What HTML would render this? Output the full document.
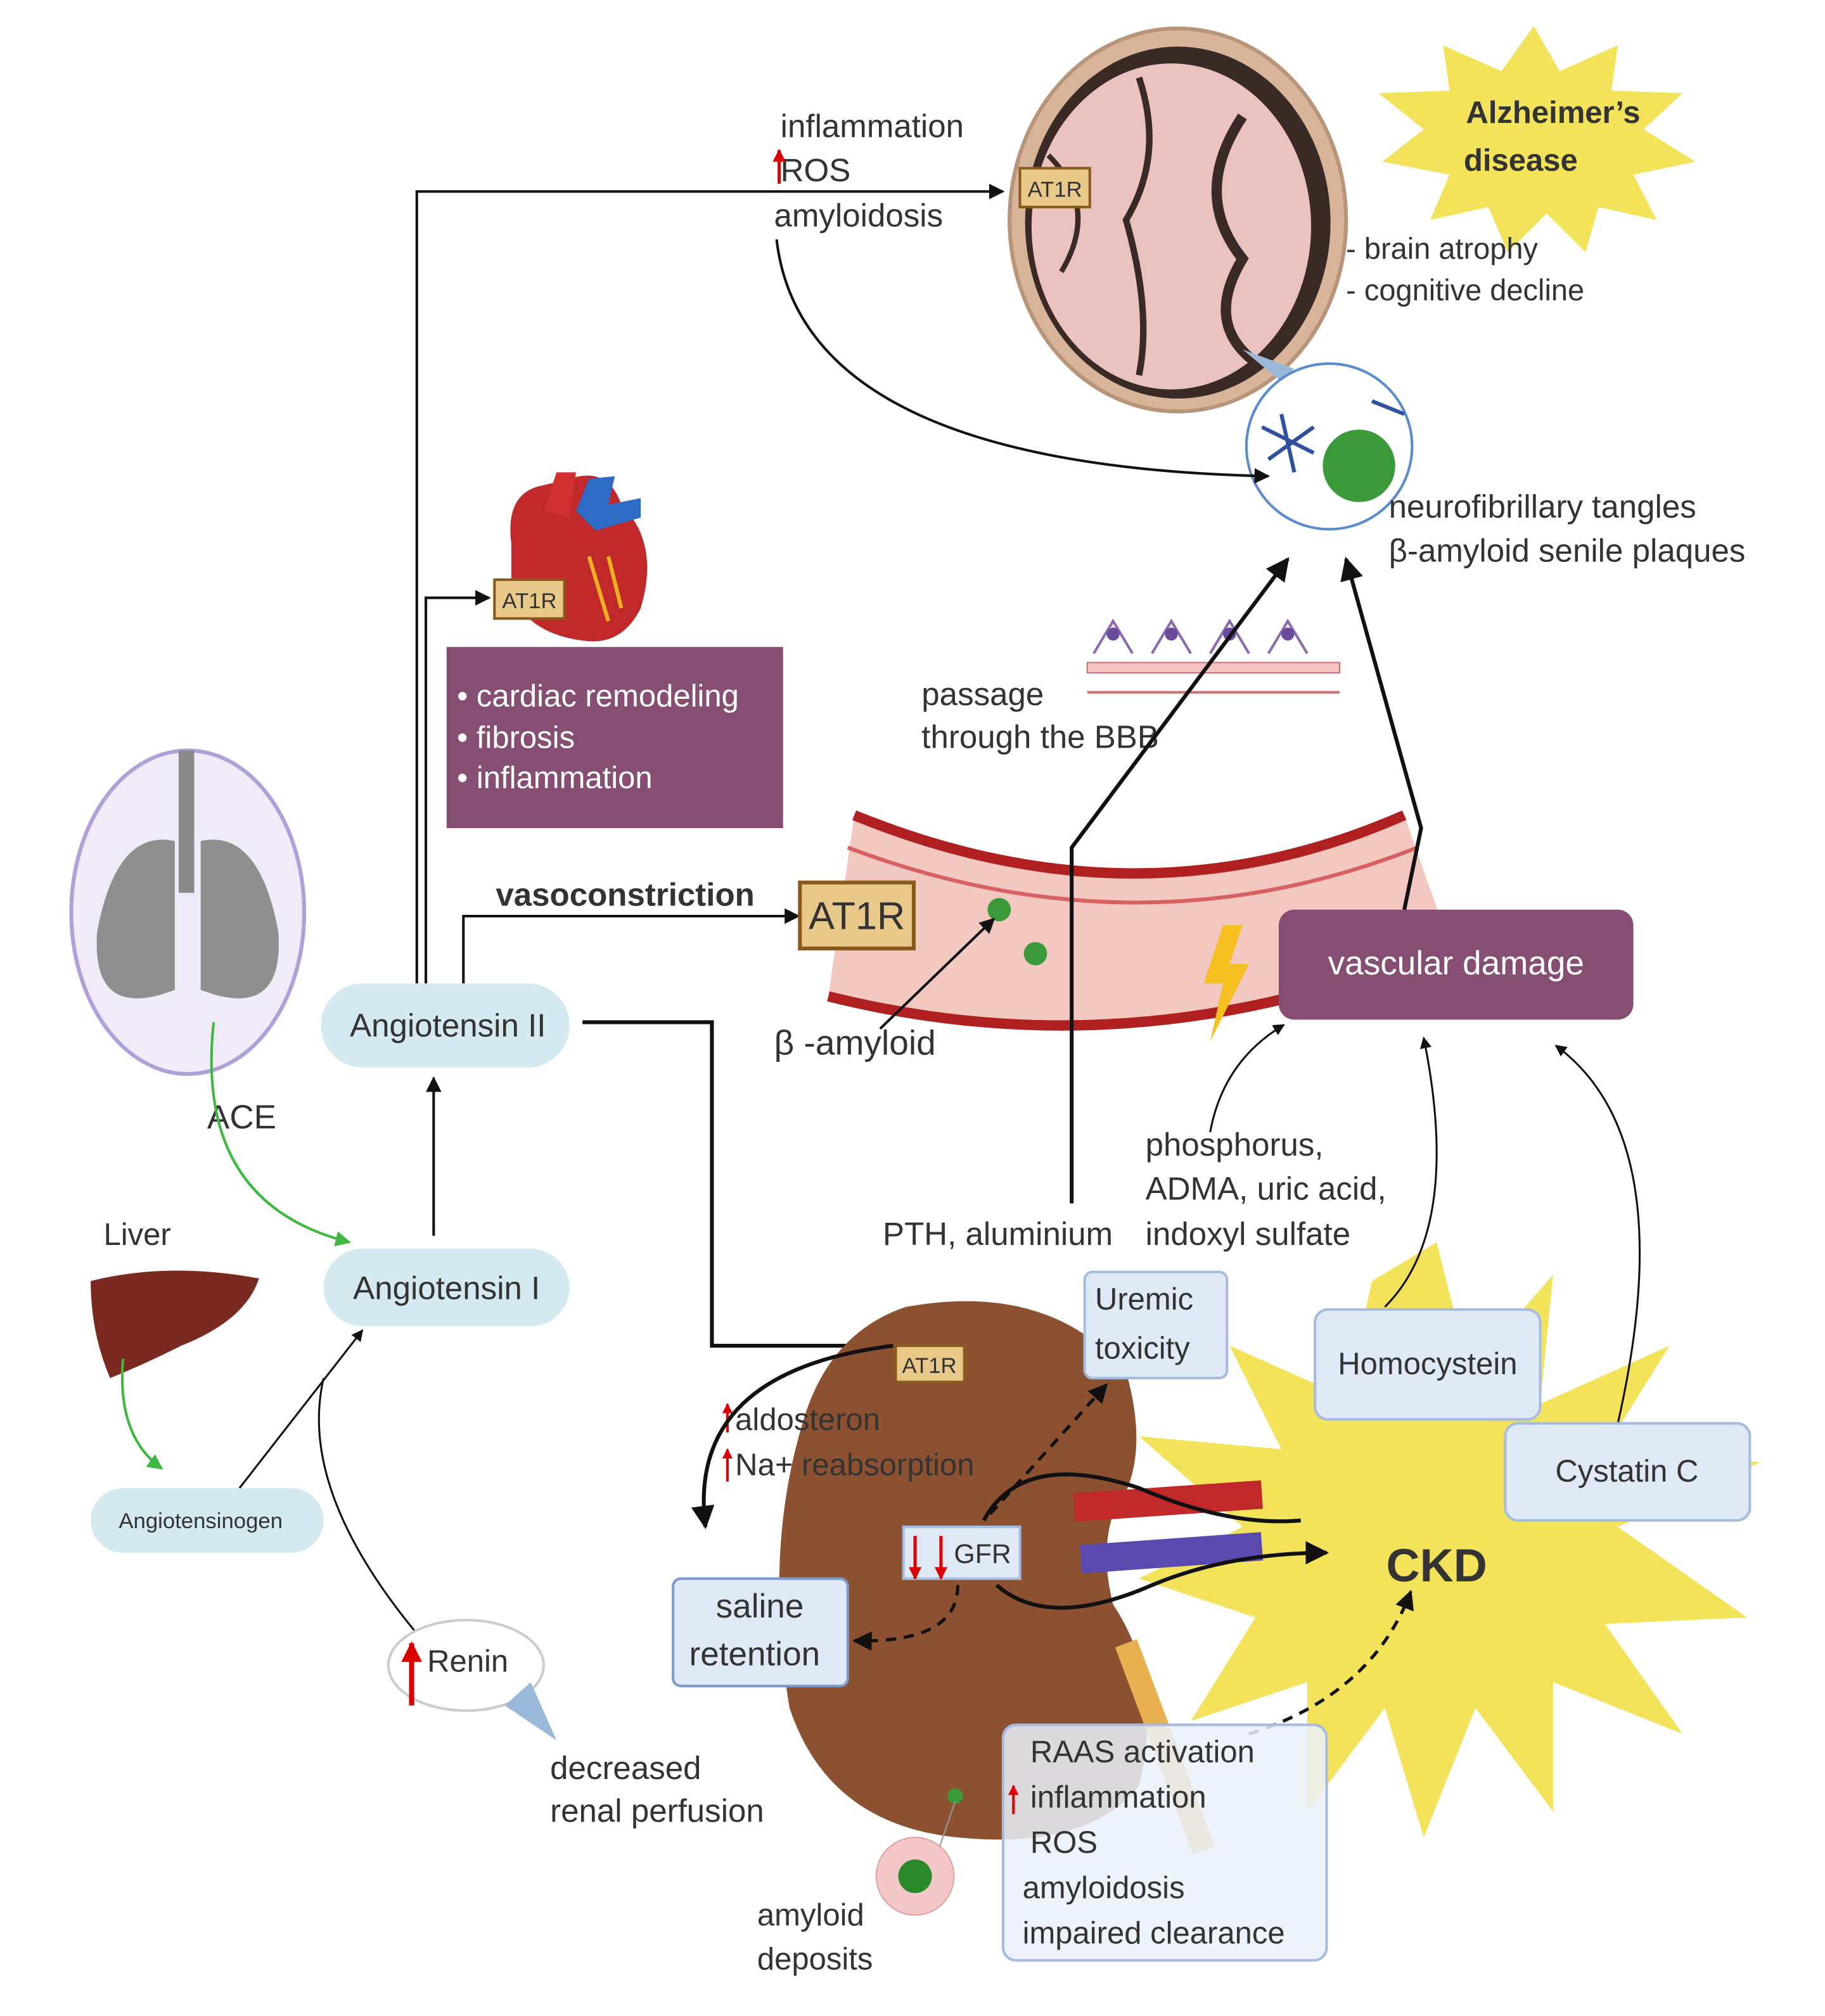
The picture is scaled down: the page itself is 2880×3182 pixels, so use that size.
<!DOCTYPE html>
<html><head><meta charset="utf-8"><style>
html,body{margin:0;padding:0;background:#fff}
svg{display:block}
text{font-family:"Liberation Sans",sans-serif;fill:#333}
</style></head><body>
<svg width="2880" height="3182" viewBox="0 0 1410 1558" xmlns="http://www.w3.org/2000/svg">
<defs>
<marker id="ah" viewBox="0 0 10 10" refX="9" refY="5" markerWidth="6" markerHeight="6" orient="auto"><path d="M0,0L10,5L0,10z" fill="#111"/></marker>
<marker id="ahg" viewBox="0 0 10 10" refX="9" refY="5" markerWidth="6" markerHeight="6" orient="auto"><path d="M0,0L10,5L0,10z" fill="#3fb83f"/></marker>
<marker id="ahr" viewBox="0 0 10 10" refX="9" refY="5" markerWidth="4" markerHeight="4" orient="auto"><path d="M0,0L10,5L0,10z" fill="#d00"/></marker>
</defs>
<rect width="1410" height="1558" fill="#fff"/>

<!-- CKD star -->
<polygon fill="#f3e35a" points="1110,960 1135,1060 1200,985 1190,1085 1290,1040 1240,1120 1360,1130 1250,1180 1350,1250 1240,1255 1300,1340 1200,1300 1200,1400 1140,1320 1100,1420 1070,1320 1010,1400 1010,1300 920,1330 970,1250 880,1220 960,1180 880,1110 990,1120 950,1040 1040,1080 1060,990"/>
<!-- Alzheimer star -->
<polygon fill="#f3e35a" points="1185,20 1205,55 1250,35 1245,70 1300,72 1270,100 1310,125 1262,135 1280,170 1235,160 1225,195 1195,165 1165,195 1150,160 1105,170 1120,135 1068,125 1100,100 1065,72 1120,70 1115,35 1160,55"/>
<text x="1200" y="95" font-size="24" font-weight="bold" text-anchor="middle" fill="#222">Alzheimer’s</text>
<text x="1175" y="132" font-size="24" font-weight="bold" text-anchor="middle" fill="#222">disease</text>

<!-- Brain -->
<ellipse cx="910" cy="170" rx="130" ry="148" fill="#d8b59a" stroke="#b89478" stroke-width="3"/>
<ellipse cx="910" cy="172" rx="118" ry="136" fill="#3a2a25"/>
<ellipse cx="905" cy="175" rx="108" ry="126" fill="#eac2c0"/>
<path d="M880,60 Q900,120 870,170 Q890,240 880,290" stroke="#3a2a25" stroke-width="5" fill="none"/>
<path d="M960,90 Q920,150 960,200 Q930,250 970,280" stroke="#3a2a25" stroke-width="8" fill="none"/>
<path d="M810,120 Q850,160 820,210" stroke="#3a2a25" stroke-width="4" fill="none"/>
<rect x="788" y="130" width="54" height="30" fill="#e8c98a" stroke="#8a5a1a" stroke-width="2"/>
<text x="815" y="152" font-size="17" text-anchor="middle">AT1R</text>
<text x="1040" y="200" font-size="23">- brain atrophy</text>
<text x="1040" y="232" font-size="23">- cognitive decline</text>
<polygon points="960,270 990,295 1000,285" fill="#9ab8d8"/>
<circle cx="1027" cy="345" r="64" fill="#fff" stroke="#5a8ad0" stroke-width="2"/>
<circle cx="1050" cy="360" r="28" fill="#3a9a3a"/>
<path d="M975,330 l40,20 M980,355 l35,-25 M990,320 l10,45 M1060,310 l25,10" stroke="#3050a0" stroke-width="3"/>
<text x="1073" y="400" font-size="25">neurofibrillary tangles</text>
<text x="1073" y="434" font-size="25">β-amyloid senile plaques</text>

<!-- inflammation text -->
<text x="603" y="106" font-size="25">inflammation</text>
<text x="603" y="140" font-size="25">ROS</text>
<text x="598" y="175" font-size="25">amyloidosis</text>
<line x1="602" y1="142" x2="602" y2="116" stroke="#d00" stroke-width="2.5" marker-end="url(#ahr)"/>
<path d="M600,185 Q620,360 980,368" stroke="#111" stroke-width="2" fill="none" marker-end="url(#ah)"/>

<!-- AngII vertical lines -->
<path d="M322,760 V148 H775" stroke="#111" stroke-width="2" fill="none" marker-end="url(#ah)"/>
<path d="M329,760 V462 H378" stroke="#111" stroke-width="2" fill="none" marker-end="url(#ah)"/>

<!-- Heart -->
<path d="M395,420 Q390,380 420,375 L440,370 Q470,360 480,390 Q510,420 495,470 Q480,500 450,495 Q410,490 395,460z" fill="#c0282a"/>
<path d="M420,395 L430,365 L445,365 L440,400z" fill="#d03030"/>
<path d="M445,395 L455,370 L475,368 L470,390 L495,385 L495,400 L460,410z" fill="#2d6bc4"/>
<path d="M455,430 L470,480 M470,430 L480,470" stroke="#f0b020" stroke-width="3"/>
<rect x="382" y="448" width="54" height="30" fill="#e8c98a" stroke="#8a5a1a" stroke-width="2"/>
<text x="409" y="470" font-size="17" text-anchor="middle">AT1R</text>
<rect x="345" y="500" width="260" height="140" fill="#864e73"/>
<text x="353" y="546" font-size="24" style="fill:#fff">• cardiac remodeling</text>
<text x="353" y="578" font-size="24" style="fill:#fff">• fibrosis</text>
<text x="353" y="609" font-size="24" style="fill:#fff">• inflammation</text>

<!-- BBB -->
<g stroke="#8a6ab0" stroke-width="2" fill="none">
<path d="M845,505 l15,-25 l15,25 M890,505 l15,-25 l15,25 M935,505 l15,-25 l15,25 M980,505 l15,-25 l15,25"/>
</g>
<g fill="#6a4a9a"><circle cx="860" cy="490" r="5"/><circle cx="905" cy="490" r="5"/><circle cx="950" cy="490" r="5"/><circle cx="995" cy="490" r="5"/></g>
<rect x="840" y="512" width="195" height="8" fill="#f4c4c4" stroke="#d07070"/>
<line x1="840" y1="535" x2="1035" y2="535" stroke="#d07070" stroke-width="2"/>
<text x="712" y="545" font-size="25">passage</text>
<text x="712" y="578" font-size="25">through the BBB</text>

<!-- Vessel -->
<path d="M660,630 Q880,720 1085,630 L1120,730 Q880,830 640,770z" fill="#f2c8c0"/>
<path d="M660,630 Q880,720 1085,630" stroke="#b02020" stroke-width="8" fill="none"/>
<path d="M640,770 Q880,830 1120,730" stroke="#b02020" stroke-width="8" fill="none"/>
<path d="M655,655 Q880,740 1095,655" stroke="#d86060" stroke-width="3" fill="none"/>
<circle cx="772" cy="703" r="9" fill="#3a9a3a"/><circle cx="800" cy="737" r="9" fill="#3a9a3a"/>
<path d="M945,715 L930,760 L945,760 L935,805 L965,745 L950,745 L960,715z" fill="#f5c020"/>
<rect x="988" y="703" width="274" height="85" rx="12" fill="#864e73"/>
<text x="1125" y="753" font-size="26" text-anchor="middle" style="fill:#fff">vascular damage</text>

<text x="383" y="700" font-size="25" font-weight="bold" fill="#111">vasoconstriction</text>
<path d="M358,760 V708 H617" stroke="#111" stroke-width="2" fill="none" marker-end="url(#ah)"/>
<rect x="618" y="682" width="88" height="51" fill="#e8c98a" stroke="#8a5a1a" stroke-width="3"/>
<text x="662" y="718" font-size="30" text-anchor="middle" fill="#111">AT1R</text>
<text x="598" y="815" font-size="27">β -amyloid</text>
<line x1="680" y1="795" x2="768" y2="710" stroke="#111" stroke-width="2" marker-end="url(#ah)"/>

<!-- arrows to brain -->
<path d="M828,930 V655 L995,432" stroke="#111" stroke-width="3" fill="none" marker-end="url(#ah)"/>
<path d="M1085,703 L1098,640 L1040,432" stroke="#111" stroke-width="3" fill="none" marker-end="url(#ah)"/>

<text x="682" y="962" font-size="25">PTH, aluminium</text>
<text x="885" y="893" font-size="25">phosphorus,</text>
<text x="885" y="927" font-size="25">ADMA, uric acid,</text>
<text x="885" y="962" font-size="25">indoxyl sulfate</text>
<path d="M935,875 Q945,820 992,792" stroke="#111" stroke-width="1.5" fill="none" marker-end="url(#ah)"/>
<path d="M1070,1010 Q1130,950 1100,802" stroke="#111" stroke-width="1.5" fill="none" marker-end="url(#ah)"/>
<path d="M1250,1100 Q1300,880 1202,808" stroke="#111" stroke-width="1.5" fill="none" marker-end="url(#ah)"/>

<!-- Lungs -->
<ellipse cx="145" cy="705" rx="90" ry="125" fill="#efebf8" stroke="#b0a0d8" stroke-width="3"/>
<rect x="138" y="580" width="12" height="110" fill="#8a8a8a"/>
<path d="M135,650 Q90,640 75,720 Q70,790 135,765z" fill="#8f8f8f"/>
<path d="M155,650 Q200,640 215,720 Q220,790 155,765z" fill="#8f8f8f"/>
<text x="160" y="872" font-size="26">ACE</text>
<path d="M165,790 Q150,930 270,960" stroke="#3fb83f" stroke-width="2" fill="none" marker-end="url(#ahg)"/>

<!-- Liver -->
<text x="80" y="962" font-size="24">Liver</text>
<path d="M70,990 Q130,975 200,988 Q190,1020 140,1040 Q110,1055 85,1065 Q70,1030 70,990z" fill="#7a2a20"/>
<path d="M95,1050 Q90,1110 125,1135" stroke="#3fb83f" stroke-width="2" fill="none" marker-end="url(#ahg)"/>
<rect x="70" y="1150" width="180" height="50" rx="25" fill="#d4eaf0"/>
<text x="155" y="1181" font-size="17" text-anchor="middle">Angiotensinogen</text>
<rect x="250" y="965" width="190" height="60" rx="30" fill="#d4eaf0"/>
<text x="345" y="1004" font-size="25" text-anchor="middle">Angiotensin I</text>
<rect x="248" y="760" width="192" height="65" rx="32" fill="#d4eaf0"/>
<text x="346" y="801" font-size="25" text-anchor="middle">Angiotensin II</text>
<line x1="335" y1="955" x2="335" y2="833" stroke="#111" stroke-width="2" marker-end="url(#ah)"/>
<line x1="185" y1="1150" x2="280" y2="1028" stroke="#111" stroke-width="1.5" marker-end="url(#ah)"/>
<path d="M320,1260 Q230,1150 250,1065" stroke="#111" stroke-width="1.5" fill="none"/>

<!-- Renin -->
<ellipse cx="360" cy="1287" rx="60" ry="35" fill="#fff" stroke="#ccc" stroke-width="2"/>
<polygon points="390,1318 430,1345 410,1300" fill="#9ab8d8"/>
<line x1="318" y1="1318" x2="318" y2="1270" stroke="#d00" stroke-width="4" marker-end="url(#ahr)"/>
<text x="330" y="1292" font-size="24">Renin</text>
<text x="425" y="1375" font-size="25">decreased</text>
<text x="425" y="1408" font-size="25">renal perfusion</text>

<!-- AngII to kidney -->
<path d="M450,790 H550 V1040 H688" stroke="#111" stroke-width="3" fill="none" marker-end="url(#ah)"/>

<!-- Kidney -->
<path d="M700,1010 Q810,990 870,1060 Q890,1130 860,1170 Q850,1200 860,1240 Q900,1300 880,1380 Q840,1430 740,1420 Q640,1410 610,1320 Q590,1200 620,1100 Q640,1030 700,1010z" fill="#8b5130"/>
<path d="M870,1270 Q900,1350 930,1430" stroke="#e8b050" stroke-width="18" fill="none"/>
<path d="M830,1165 L975,1155" stroke="#c0282a" stroke-width="22"/>
<path d="M835,1205 L975,1195" stroke="#5a4ab0" stroke-width="22"/>
<rect x="692" y="1040" width="53" height="28" fill="#e8c98a" stroke="#8a5a1a" stroke-width="2"/>
<text x="718" y="1061" font-size="17" text-anchor="middle">AT1R</text>
<line x1="562" y1="1107" x2="562" y2="1085" stroke="#d00" stroke-width="2" marker-end="url(#ahr)"/>
<text x="568" y="1105" font-size="24">aldosteron</text>
<line x1="562" y1="1145" x2="562" y2="1120" stroke="#d00" stroke-width="2" marker-end="url(#ahr)"/>
<text x="568" y="1140" font-size="24">Na+ reabsorption</text>
<path d="M690,1040 Q530,1060 545,1180" stroke="#111" stroke-width="3" fill="none" marker-end="url(#ah)"/>
<rect x="698" y="1180" width="90" height="40" fill="#dfeaf6" stroke="#a5bce0" stroke-width="2"/>
<line x1="707" y1="1187" x2="707" y2="1220" stroke="#d00" stroke-width="2.5" marker-end="url(#ahr)"/>
<line x1="727" y1="1187" x2="727" y2="1220" stroke="#d00" stroke-width="2.5" marker-end="url(#ahr)"/>
<text x="737" y="1208" font-size="21">GFR</text>
<path d="M760,1175 Q790,1120 880,1150 Q950,1180 1005,1175" stroke="#111" stroke-width="3" fill="none"/>
<path d="M770,1225 Q810,1260 890,1225 Q950,1200 1025,1200" stroke="#111" stroke-width="3" fill="none" marker-end="url(#ah)"/>
<path d="M765,1170 L855,1070" stroke="#111" stroke-width="2.5" stroke-dasharray="8,6" fill="none" marker-end="url(#ah)"/>
<path d="M740,1225 Q740,1270 660,1268" stroke="#111" stroke-width="2.5" stroke-dasharray="8,6" fill="none" marker-end="url(#ah)"/>
<path d="M965,1340 Q1060,1310 1090,1230" stroke="#111" stroke-width="2.5" stroke-dasharray="8,6" fill="none" marker-end="url(#ah)"/>

<rect x="520" y="1220" width="135" height="83" rx="6" fill="#dfeaf6" stroke="#7a9ad0" stroke-width="2"/>
<text x="587" y="1250" font-size="26" text-anchor="middle">saline</text>
<text x="583" y="1287" font-size="26" text-anchor="middle">retention</text>
<rect x="838" y="983" width="110" height="82" rx="6" fill="#dfeaf6" stroke="#a5bce0" stroke-width="2"/>
<text x="846" y="1012" font-size="24">Uremic</text>
<text x="846" y="1050" font-size="24">toxicity</text>
<rect x="1016" y="1012" width="174" height="85" rx="10" fill="#dfeaf6" stroke="#a5bce0" stroke-width="2"/>
<text x="1103" y="1062" font-size="24" text-anchor="middle">Homocystein</text>
<rect x="1163" y="1100" width="189" height="75" rx="10" fill="#dfeaf6" stroke="#a5bce0" stroke-width="2"/>
<text x="1257" y="1145" font-size="24" text-anchor="middle">Cystatin C</text>
<text x="1110" y="1222" font-size="36" font-weight="bold" text-anchor="middle" fill="#111">CKD</text>

<rect x="775" y="1333" width="250" height="182" rx="10" fill="#eaf1fa" fill-opacity="0.85" stroke="#a5bce0" stroke-width="2"/>
<text x="796" y="1362" font-size="24">RAAS activation</text>
<line x1="783" y1="1402" x2="783" y2="1380" stroke="#d00" stroke-width="2" marker-end="url(#ahr)"/>
<text x="796" y="1397" font-size="24">inflammation</text>
<text x="796" y="1432" font-size="24">ROS</text>
<text x="790" y="1467" font-size="24">amyloidosis</text>
<text x="790" y="1502" font-size="24">impaired clearance</text>

<circle cx="738" cy="1388" r="6" fill="#3a9a3a"/>
<line x1="738" y1="1392" x2="725" y2="1430" stroke="#999"/>
<circle cx="707" cy="1450" r="30" fill="#f4c8c8" stroke="#e0a0a0"/>
<circle cx="707" cy="1450" r="13" fill="#2a8a2a"/>
<text x="585" y="1488" font-size="24">amyloid</text>
<text x="585" y="1522" font-size="24">deposits</text>
</svg>
</body></html>
